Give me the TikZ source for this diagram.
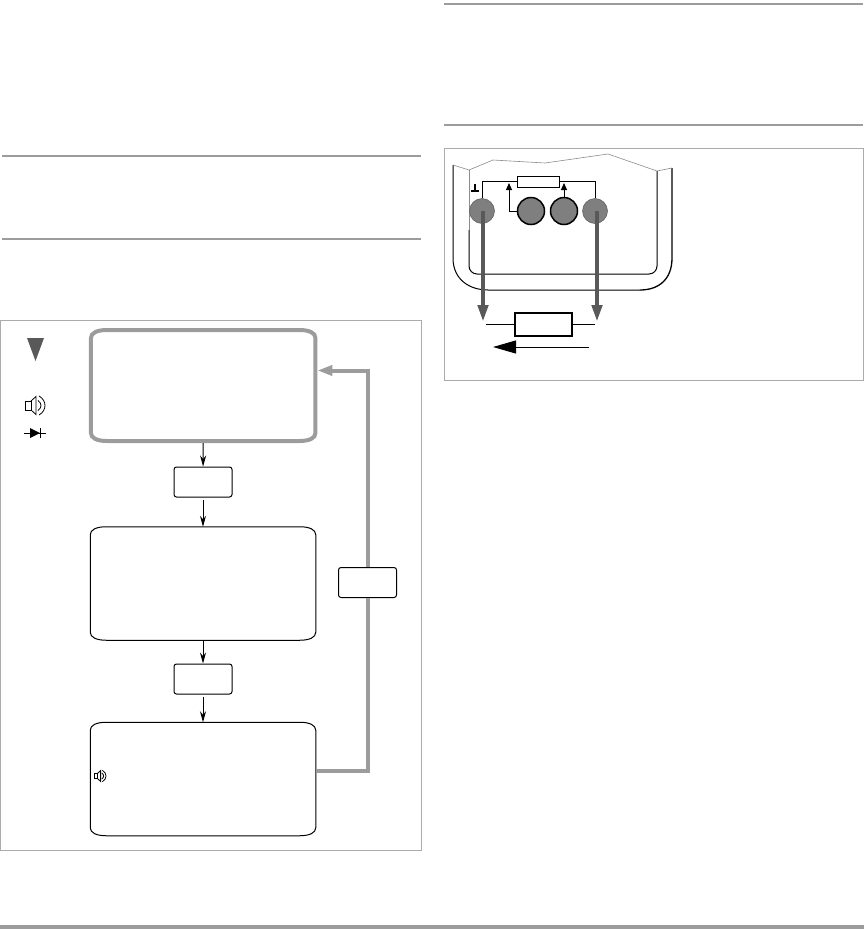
\documentclass[tikz,border=0pt]{standalone}
\usetikzlibrary{arrows.meta}

\definecolor{linegray}{HTML}{9C9C9C}
\definecolor{framegray}{HTML}{ABABAB}
\definecolor{probegray}{HTML}{595959}
\definecolor{pingray}{HTML}{7F7F7F}

\tikzset{
    flowbox/.style={outer sep=0pt, minimum width=225.5pt, minimum height=113.5pt, inner sep=0pt},
    keybox/.style={draw, line width=1pt, fill=white, rounded corners=2.5pt, minimum width=58pt, minimum height=30pt, inner sep=0pt},
    flow/.style={line width=1pt, -{Stealth[length=11pt, width=6pt]}},
    back/.style={line width=4pt, draw=linegray},
    rule/.style={line width=1.6pt, draw=linegray},
    frame/.style={line width=0.7pt, draw=framegray},
    probe/.style={line width=4.5pt, draw=probegray, -{Stealth[length=17pt, width=10pt, inset=0pt]}},
    pin/.style={circle, fill=pingray, draw=pingray!70!black, line width=0.5pt, minimum size=25pt, inner sep=0pt},
    midpin/.style={circle, fill=pingray, draw=black, line width=1.5pt, minimum size=27pt, inner sep=0pt},
    wire/.style={line width=1pt},
    tip/.style={line width=1pt, -{Stealth[length=7pt, width=6pt, inset=0pt]}},
    speaker/.pic={
        \draw[line width=0.8pt] (0,-4.5) rectangle (6,4.5);
        \draw[line width=0.8pt] (6,-4.5) -- (11,-9) -- (11,9) -- (6,4.5);
        \draw[line width=0.8pt] (13,-5) .. controls (17,-2) and (17,2) .. (13,5);
        \draw[line width=0.8pt] (14,-9.5) .. controls (22,-5) and (22,5) .. (14,9.5);
    }
}

% outline with flattened corners round a node
\newcommand{\softbox}[2][line width=1pt]{
    \draw[#1] ([xshift=16pt]#2.north west) -- ([xshift=-16pt]#2.north east)
        .. controls ([xshift=-6pt]#2.north east) and ([yshift=-3pt]#2.north east) .. ([yshift=-8pt]#2.north east)
        -- ([yshift=8pt]#2.south east)
        .. controls ([yshift=3pt]#2.south east) and ([xshift=-6pt]#2.south east) .. ([xshift=-16pt]#2.south east)
        -- ([xshift=16pt]#2.south west)
        .. controls ([xshift=6pt]#2.south west) and ([yshift=3pt]#2.south west) .. ([yshift=8pt]#2.south west)
        -- ([yshift=-8pt]#2.north west)
        .. controls ([yshift=-3pt]#2.north west) and ([xshift=6pt]#2.north west) .. cycle;
}

\begin{document}
\begin{tikzpicture}[x=1pt, y=-1pt]
    \useasboundingbox (0,0) rectangle (864,929);

    % rules
    \draw[rule] (2,156) -- (421,156);
    \draw[rule] (2,239) -- (421,239);
    \draw[rule] (444,4) -- (863,4);
    \draw[rule] (444,125) -- (863,125);
    \draw[line width=4pt, draw=linegray] (0,926.5) -- (864,926.5);

    % frames
    \draw[frame] (0.5,320.5) rectangle (421.5,850.5);
    \draw[frame] (444.5,148.5) rectangle (863.5,380.5);

    % flow chart
    \node[flowbox, minimum width=224.5pt, minimum height=111pt] (first) at (203.2,385.5) {};
    \node[flowbox] (second) at (203,583.5) {};
    \node[flowbox] (third) at (203,779) {};
    \softbox[line width=4pt, draw=linegray]{first}
    \softbox{second}
    \softbox{third}
    \node[keybox] (keyone) at (203,482) {};
    \node[keybox] (keytwo) at (203,679) {};
    \node[keybox] (keyback) at (367.5,582.5) {};

    \draw[flow] ([yshift=-2pt]first.south) -- (keyone);
    \draw[flow] ([yshift=-2pt]keyone.south) -- (second);
    \draw[flow] (second) -- (keytwo);
    \draw[flow] ([yshift=-2pt]keytwo.south) -- (third);

    \draw[back] ([yshift=8pt]third.east) -| (keyback);
    \draw[back, -{Stealth[length=15pt, width=10pt, inset=0pt]}] (keyback) |- ([yshift=15pt, xshift=2pt]first.east);

    % legend
    \fill[probegray] (27,338) -- (44,338) -- (35.5,361) -- cycle;
    \pic at (25,405.5) {speaker};
    \draw[line width=0.8pt] (24,433) -- (46,433);
    \fill (30,428) -- (40,433) -- (30,438) -- cycle;
    \draw[line width=0.8pt] (40,428) -- (40,438);
    \pic[scale=0.6] at (94,776) {speaker};

    % meter housing
    \draw[line width=1pt] (453,165) -- (453,258) .. controls (453,280) and (470,290) .. (488,290) -- (640,290);
    \draw[line width=1.3pt] (640,290) .. controls (658,290) and (672,280) .. (672,258) -- (672,168);
    \draw[line width=1pt, rounded corners=8pt] (657,171) -- (657,274) -- (469,274) -- (469,230);
    \draw[line width=0.8pt, draw=black!45] (469,230) -- (469,170);
    \draw[line width=0.6pt, draw=black!45] (453,165) -- (469,170) -- (493,160) -- (545,163) -- (608,154) -- (657,171) -- (672,168);

    % inner circuit
    \node[draw, wire, minimum width=42pt, minimum height=11pt, inner sep=0pt] (shunt) at (538,181.5) {};
    \node[pin] (pinleft) at (482,211) {};
    \node[midpin] (pintwo) at (531,211) {};
    \node[midpin] (pinthree) at (564,211) {};
    \node[pin] (pinright) at (595,211) {};

    \draw[wire] (pinleft.north) |- (shunt.west);
    \draw[wire] (pinright.north) |- (shunt.east);
    \draw[tip] (pintwo.west) -| (509,183);
    \draw[tip] (pinthree.north) -- (564,183);
    \draw[line width=1.2pt] (471,191) -- (479,191) (475,184) -- (475,191);

    % load
    \node[draw, line width=1.5pt, minimum width=57pt, minimum height=23pt, inner sep=0pt] (load) at (543.5,324.5) {};
    \coordinate (loadleft) at (486,324.5);
    \coordinate (loadright) at (595,324.5);
    \draw[line width=1.5pt] (loadleft) -- (load.west);
    \draw[line width=1.5pt] (load.east) -- (loadright);
    \draw[probe] (483,211) -- (483,322);
    \draw[probe] (597,211) -- (597,322);

    \coordinate (currentstart) at (589,347);
    \coordinate (currentend) at (493,347);
    \draw[line width=1pt, -{Stealth[length=23pt, width=13pt, inset=0pt]}] (currentstart) -- (currentend);
\end{tikzpicture}
\end{document}
